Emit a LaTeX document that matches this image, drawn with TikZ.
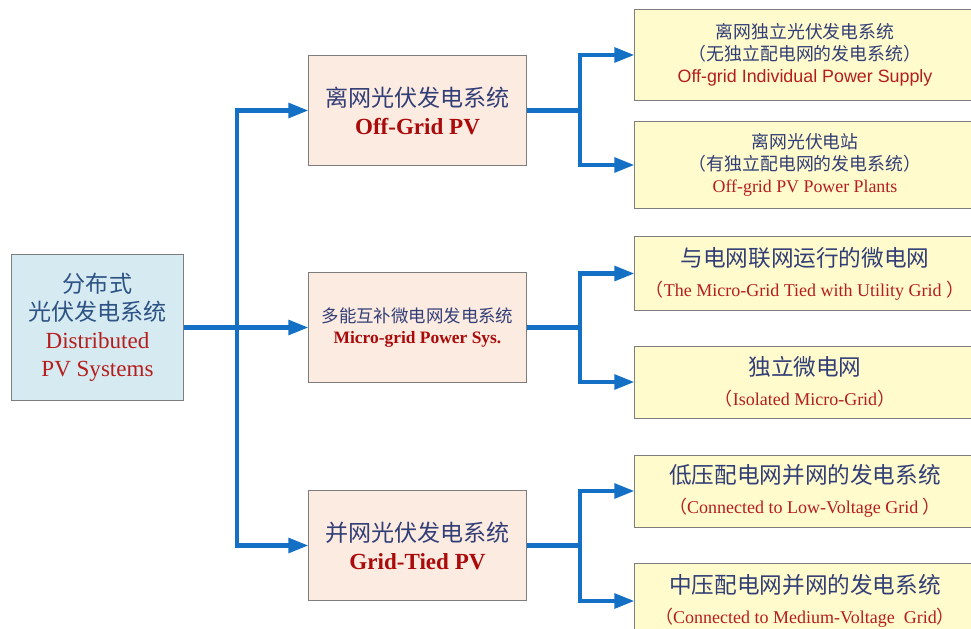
\documentclass[tikz,border=0pt]{standalone}
\usepackage{fontspec}
\setmainfont{Liberation Serif}
\newfontfamily\cjk{Noto Sans CJK SC}
\newfontfamily\arialfam{Liberation Sans}
\usetikzlibrary{arrows.meta}
\definecolor{arrowblue}{RGB}{20,112,196}
\definecolor{rootfill}{RGB}{214,234,241}
\definecolor{midfill}{RGB}{252,235,225}
\definecolor{leaffill}{RGB}{255,251,205}
\definecolor{boxline}{RGB}{125,125,125}
\definecolor{cntext}{RGB}{50,62,118}
\definecolor{rootcn}{RGB}{45,82,132}
\definecolor{entext}{RGB}{180,30,28}
\definecolor{endark}{RGB}{170,10,10}
\newcommand\cntxt[1]{{\cjk\color{cntext}#1}}
\newcommand\entxt[1]{{\color{entext}#1}}

\begin{document}
\begin{tikzpicture}[x=0.025cm, y=-0.025cm,
  box/.style={draw=boxline, line width=0.7pt, align=center, inner sep=0pt},
  rootbox/.style={box, fill=rootfill, minimum width=4.275cm, minimum height=3.625cm},
  midbox/.style={box, fill=midfill, minimum width=5.425cm, minimum height=2.725cm},
  leafbox/.style={box, fill=leaffill, minimum width=8.5cm},
  small/.style={font=\fontsize{16.1}{21.3}\selectfont},
  link/.style={draw=arrowblue, line width=3pt},
  flow/.style={link, -{Triangle[length=0.5cm, width=0.36cm]}}]
  \useasboundingbox (0,0) rectangle (971,629);

  \node[rootbox, font=\fontsize{16.4}{19.8}\selectfont] (root) at (97.5,327.5)
    {{\cjk\color{rootcn}分布式}\\{\cjk\color{rootcn}光伏发电系统}\\\entxt{Distributed}\\\entxt{PV Systems}};

  \node[midbox, font=\fontsize{16.4}{20}\selectfont] (off) at (417.5,110.5)
    {\cntxt{离网光伏发电系统}\\{\bfseries\color{endark}Off-Grid PV}};
  \node[midbox, font=\fontsize{12.4}{14.5}\selectfont] (micro) at (417.5,327.5)
    {\cntxt{多能互补微电网发电系统}\\{\bfseries\color{endark}Micro-grid Power Sys.}};
  \node[midbox, font=\fontsize{16.4}{20}\selectfont] (grid) at (417.5,545.5)
    {\cntxt{并网光伏发电系统}\\{\bfseries\color{endark}Grid-Tied PV}};

  \node[leafbox, minimum height=2.25cm, font=\fontsize{12.7}{15.7}\selectfont] (r1) at (805,55)
    {\cntxt{离网独立光伏发电系统}\\\cntxt{（无独立配电网的发电系统）}\\{\arialfam\color{entext}Off-grid Individual Power Supply}};
  \node[leafbox, minimum height=2.15cm, font=\fontsize{12.7}{15.7}\selectfont] (r2) at (805,165)
    {\cntxt{离网光伏电站}\\\cntxt{（有独立配电网的发电系统）}\\\entxt{Off-grid PV Power Plants}};
  \node[leafbox, minimum height=1.825cm, small] (r3) at (805,273.5)
    {\cntxt{与电网联网运行的微电网}\\{\fontsize{12.8}{14}\selectfont\entxt{\cjk（}\entxt{The Micro-Grid Tied with Utility Grid }\entxt{\cjk）}}};
  \node[leafbox, minimum height=1.8cm, small] (r4) at (805,382)
    {\cntxt{独立微电网}\\{\fontsize{12.8}{14}\selectfont\entxt{\cjk（}\entxt{Isolated Micro-Grid}\entxt{\cjk）}}};
  \node[leafbox, minimum height=1.8cm, small] (r5) at (805,491)
    {\cntxt{低压配电网并网的发电系统}\\{\fontsize{12.8}{14}\selectfont\entxt{\cjk（}\entxt{Connected to Low-Voltage Grid }\entxt{\cjk）}}};
  \node[leafbox, minimum height=1.9cm, small] (r6) at (805,601)
    {\cntxt{中压配电网并网的发电系统}\\{\fontsize{12.8}{14}\selectfont\entxt{\cjk（}\entxt{Connected to Medium-Voltage~ Grid}\entxt{\cjk）}}};

  \coordinate (t0) at (237,327.5);
  \coordinate (t1) at (580,110.5);
  \coordinate (t2) at (580,327.5);
  \coordinate (t3) at (580,545.5);

  \draw[flow] (root.east) -- (micro.west);
  \draw[flow] (t0) |- (off.west);
  \draw[flow] (t0) |- (grid.west);
  \foreach \m/\t/\a/\b in {off/t1/r1/r2, micro/t2/r3/r4, grid/t3/r5/r6} {
    \draw[link] (\m.east) -- (\t);
    \draw[flow] (\t) |- (\a.west);
    \draw[flow] (\t) |- (\b.west);
  }
\end{tikzpicture}
\end{document}
